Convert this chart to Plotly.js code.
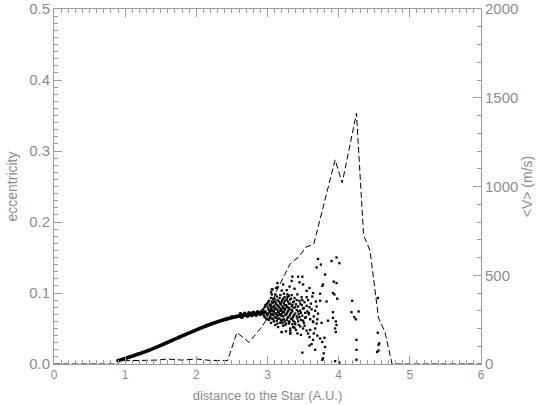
<!DOCTYPE html>
<html>
<head>
<meta charset="utf-8">
<script src="https://cdn.plot.ly/plotly-3.0.1.min.js"></script>
<style>
  body { margin: 0; background: #fff; }
  #chart { width: 545px; height: 405px; }
</style>
</head>
<body>
<div id="chart"></div>
<script>
// smooth part of the eccentricity distribution (dense band)
let curveX = [0.90, 0.925, 0.95, 0.975, 1.00, 1.025, 1.05, 1.075, 1.10, 1.125, 1.15, 1.175, 1.20, 1.225,
    1.25, 1.275, 1.30, 1.325, 1.35, 1.375, 1.40, 1.425, 1.45, 1.475, 1.50, 1.525, 1.55, 1.575,
    1.60, 1.625, 1.65, 1.675, 1.70, 1.725, 1.75, 1.775, 1.80, 1.825, 1.85, 1.875, 1.90, 1.925,
    1.95, 1.975, 2.00, 2.025, 2.05, 2.075, 2.10, 2.125, 2.15, 2.175, 2.20, 2.225, 2.25, 2.275,
    2.30, 2.325, 2.35, 2.375, 2.40, 2.425, 2.45, 2.475, 2.50, 2.525, 2.55, 2.575, 2.60, 2.625,
    2.65, 2.675, 2.70, 2.725, 2.75, 2.775, 2.80, 2.825, 2.85, 2.875, 2.90, 2.925, 2.95,
    2.62, 2.68, 2.74, 2.80, 2.86, 2.92, 2.64, 2.72, 2.78, 2.84, 2.90, 2.50, 2.56];
let curveE = [0.0048, 0.0055, 0.0063, 0.0071, 0.0079, 0.0087, 0.0095, 0.0103, 0.0112, 0.0120, 0.0129,
    0.0137, 0.0146, 0.0154, 0.0163, 0.0171, 0.0180, 0.0190, 0.0200, 0.0210, 0.0221, 0.0231, 0.0242,
    0.0252, 0.0263, 0.0274, 0.0285, 0.0296, 0.0307, 0.0318, 0.0329, 0.0340, 0.0351, 0.0362, 0.0373,
    0.0384, 0.0395, 0.0406, 0.0417, 0.0428, 0.0438, 0.0449, 0.0460, 0.0470, 0.0481, 0.0491, 0.0502,
    0.0512, 0.0522, 0.0532, 0.0542, 0.0551, 0.0561, 0.0570, 0.0579, 0.0587, 0.0596, 0.0604, 0.0612,
    0.0620, 0.0627, 0.0634, 0.0641, 0.0647, 0.0654, 0.0660, 0.0665, 0.0670, 0.0675, 0.0680, 0.0684,
    0.0688, 0.0692, 0.0696, 0.0699, 0.0703, 0.0706, 0.0709, 0.0712, 0.0715, 0.0718, 0.0721, 0.0724,
    0.0705, 0.0712, 0.0718, 0.0727, 0.0735, 0.0740, 0.0660, 0.0675, 0.0684, 0.0690, 0.0700, 0.0662, 0.0672];

// scattered planetesimals beyond ~2.9 AU
let scatX = [
    2.95, 2.96, 2.97, 2.98, 2.99, 3.00, 3.01, 3.02, 3.02, 3.03, 3.04, 3.04, 3.05, 3.05,
    3.06, 3.07, 3.07, 3.08, 3.08, 3.09, 3.10, 3.10, 3.11, 3.11, 3.12, 3.12, 3.13, 3.13, 3.14, 3.14, 3.15, 3.15,
    3.16, 3.16, 3.17, 3.17, 3.18, 3.18, 3.19, 3.19, 3.20, 3.20, 3.21, 3.21, 3.22, 3.22, 3.23, 3.23, 3.24, 3.24, 3.25, 3.25,
    3.26, 3.26, 3.27, 3.27, 3.28, 3.28, 3.29, 3.29, 3.30, 3.30, 3.31, 3.31, 3.32, 3.32, 3.33, 3.33, 3.34, 3.34, 3.35, 3.35,
    3.36, 3.36, 3.37, 3.38, 3.38, 3.39, 3.40, 3.40, 3.41, 3.42, 3.42, 3.43, 3.44, 3.44, 3.45,
    3.46, 3.47, 3.48, 3.48, 3.49, 3.50, 3.51, 3.52, 3.53, 3.54, 3.55,
    3.57, 3.58, 3.60, 3.61, 3.62, 3.63, 3.65,
    3.05, 3.12, 3.27, 3.38, 3.14, 3.06, 3.14, 3.06, 3.09, 3.18, 3.23,
    3.20, 3.32, 3.42, 3.49, 3.59, 3.67, 3.81, 3.78, 3.77, 4.01,
    4.25, 4.25, 4.25, 4.19, 4.18, 4.28, 4.24, 4.55, 4.56, 4.56, 4.54,
    3.92, 3.92, 3.95, 3.96, 3.93, 3.97, 3.92, 3.94, 3.90, 3.97, 4.01,
    3.71, 3.69, 3.75, 3.81, 3.78, 3.77, 3.74, 3.74, 3.69, 3.67, 3.71,
    3.64, 3.69, 3.67, 3.65, 3.70, 3.74, 3.80, 3.77, 3.64,
    3.55, 3.57, 3.59, 3.50, 3.46, 3.36, 3.30,
    3.43, 3.49, 3.35, 3.34, 3.45, 3.50, 3.22, 3.20, 3.31, 3.07, 3.11, 3.28, 3.55, 3.59, 3.64, 3.55,
    3.20, 3.32, 3.32, 3.38, 3.26, 3.47, 3.52, 3.60, 3.62, 3.70, 3.76, 3.79,
    3.96, 3.97, 3.98, 3.95, 4.55, 4.57, 4.22, 3.58, 3.83, 3.85,
    2.93, 2.94, 2.96, 2.97, 2.98, 2.99, 3.00, 3.00, 3.01, 3.01, 3.02, 3.03, 3.03, 3.04, 3.05, 3.05,
    3.06, 3.06, 3.07, 3.08, 3.08, 3.09, 3.09, 3.10, 3.11, 3.11, 3.12, 3.12, 3.13, 3.13, 3.14, 3.14,
    3.15, 3.15, 3.16, 3.17, 3.17, 3.18, 3.18, 3.19, 3.19, 3.20, 3.20, 3.21, 3.21, 3.22, 3.22, 3.23,
    3.24, 3.24, 3.25, 3.25, 3.26, 3.27, 3.27, 3.28, 3.28, 3.29, 3.30, 3.30, 3.31, 3.32, 3.32, 3.33,
    3.34, 3.34, 3.35, 3.36, 3.37, 3.37, 3.39, 3.39, 3.41, 3.41, 3.43, 3.43, 3.45, 3.46, 3.47, 3.49,
    3.50, 3.51, 3.53, 3.56, 3.59, 3.64, 3.68];
let scatE = [
    0.068, 0.080, 0.074, 0.064, 0.085, 0.070, 0.078, 0.062, 0.089, 0.073, 0.067, 0.082, 0.058, 0.093,
    0.076, 0.070, 0.086, 0.063, 0.080, 0.074, 0.091, 0.066, 0.055, 0.079, 0.071, 0.085, 0.061, 0.095, 0.076, 0.068, 0.082, 0.052,
    0.088, 0.072, 0.064, 0.079, 0.097, 0.058, 0.084, 0.070, 0.075, 0.062, 0.090, 0.081, 0.067, 0.054, 0.086, 0.073, 0.094, 0.060, 0.078, 0.069,
    0.083, 0.057, 0.091, 0.071, 0.065, 0.080, 0.075, 0.088, 0.060, 0.096, 0.077, 0.068, 0.085, 0.050, 0.072, 0.092, 0.063, 0.081, 0.056, 0.074,
    0.087, 0.066, 0.079, 0.093, 0.059, 0.071, 0.084, 0.048, 0.076, 0.064, 0.098, 0.081, 0.070, 0.055, 0.089,
    0.075, 0.062, 0.094, 0.083, 0.068, 0.078, 0.058, 0.087, 0.072, 0.066, 0.082,
    0.090, 0.070, 0.063, 0.085, 0.077, 0.095, 0.067,
    0.101, 0.107, 0.104, 0.106, 0.114, 0.105, 0.108, 0.098, 0.088, 0.086, 0.099,
    0.045, 0.043, 0.043, 0.016, 0.026, 0.020, 0.024, 0.008, 0.006, 0.002,
    0.034, 0.020, 0.006, 0.089, 0.073, 0.074, 0.063, 0.044, 0.027, 0.019, 0.017,
    0.073, 0.065, 0.050, 0.045, 0.116, 0.114, 0.100, 0.098, 0.145, 0.150, 0.142,
    0.148, 0.136, 0.140, 0.126, 0.112, 0.110, 0.099, 0.089, 0.081, 0.075, 0.071,
    0.059, 0.057, 0.050, 0.043, 0.040, 0.036, 0.037, 0.031, 0.034,
    0.047, 0.043, 0.038, 0.050, 0.053, 0.052, 0.057,
    0.123, 0.123, 0.123, 0.117, 0.115, 0.112, 0.112, 0.1035, 0.109, 0.105, 0.098, 0.098, 0.103, 0.107, 0.100, 0.094,
    0.045, 0.047, 0.043, 0.051, 0.046, 0.041, 0.054, 0.048, 0.028, 0.063, 0.058, 0.015,
    0.060, 0.055, 0.092, 0.004, 0.093, 0.029, 0.066, 0.072, 0.088, 0.061,
    0.071, 0.077, 0.066, 0.083, 0.072, 0.069, 0.081, 0.063, 0.087, 0.071, 0.076, 0.065, 0.084, 0.075, 0.070, 0.079,
    0.064, 0.088, 0.074, 0.069, 0.092, 0.060, 0.082, 0.077, 0.071, 0.087, 0.065, 0.078, 0.083, 0.069, 0.057, 0.090,
    0.073, 0.064, 0.080, 0.093, 0.069, 0.075, 0.085, 0.061, 0.077, 0.088, 0.068, 0.072, 0.058, 0.079, 0.092, 0.063,
    0.076, 0.083, 0.055, 0.089, 0.070, 0.062, 0.081, 0.073, 0.094, 0.066, 0.079, 0.085, 0.059, 0.070, 0.091, 0.064,
    0.076, 0.097, 0.083, 0.061, 0.088, 0.069, 0.080, 0.056, 0.090, 0.067, 0.074, 0.060, 0.066, 0.085, 0.072, 0.090,
    0.061, 0.079, 0.065, 0.074, 0.080, 0.060, 0.088];

// mean velocity <V> (m/s), dashed curve on the right axis
let velX = [0.00, 0.90, 0.92, 1.20, 1.45, 1.60, 1.80, 2.00, 2.20, 2.44, 2.57, 2.74, 2.90, 2.98,
    3.12, 3.32, 3.44, 3.54, 3.65, 3.95, 4.05, 4.25, 4.35, 4.44, 4.56, 4.65, 4.75, 6.00];
let velV = [0, 0, 18, 20, 22, 28, 22, 28, 20, 20, 177, 122, 199, 245,
    405, 566, 603, 659, 675, 1150, 1020, 1413, 725, 640, 260, 180, 0, 0];

let grey = '#8c8c8c';
let axisGrey = '#9c9c9c';
let fnt = 'Liberation Sans, Arial, sans-serif';

Plotly.newPlot(
    'chart',
    [
        {
            type: 'scatter', mode: 'markers', x: curveX, y: curveE,
            marker: { color: '#000', size: 3.8, symbol: 'circle' },
            hoverinfo: 'skip'
        },
        {
            type: 'scatter', mode: 'markers', x: scatX, y: scatE,
            marker: { color: '#000', size: 2.3, symbol: 'square' },
            hoverinfo: 'skip'
        },
        {
            type: 'scatter', mode: 'lines', x: velX, y: velV, yaxis: 'y2',
            line: { color: '#000', width: 1, dash: '6px,3px' },
            hoverinfo: 'skip'
        }
    ],
    {
        width: 545,
        height: 405,
        showlegend: false,
        paper_bgcolor: '#fff',
        plot_bgcolor: '#fff',
        margin: { l: 54, r: 64, t: 9, b: 41 },
        xaxis: {
            range: [0, 6], dtick: 1, tick0: 0,
            showgrid: false, zeroline: false,
            showline: true, linecolor: axisGrey, linewidth: 1, mirror: 'ticks',
            ticks: 'inside', ticklen: 8, tickcolor: axisGrey,
            minor: { dtick: 0.1, ticks: 'inside', ticklen: 4, tickcolor: axisGrey, showgrid: false },
            tickfont: { family: fnt, size: 12, color: grey },
            title: { text: 'distance to the Star (A.U.)', font: { family: fnt, size: 13, color: grey }, standoff: 9 }
        },
        yaxis: {
            range: [0, 0.5], dtick: 0.1, tick0: 0, tickformat: '.1f',
            showgrid: false, zeroline: false,
            showline: true, linecolor: axisGrey, linewidth: 1,
            ticks: 'inside', ticklen: 8, tickcolor: axisGrey,
            minor: { dtick: 0.01, ticks: 'inside', ticklen: 4, tickcolor: axisGrey, showgrid: false },
            tickfont: { family: fnt, size: 15, color: grey },
            ticklabeloverflow: 'allow',
            title: { text: 'eccentricity', font: { family: fnt, size: 14, color: grey }, standoff: 8 }
        },
        yaxis2: {
            overlaying: 'y', side: 'right',
            range: [0, 2000], dtick: 500, tick0: 0,
            showgrid: false, zeroline: false,
            showline: true, linecolor: axisGrey, linewidth: 1,
            ticks: 'inside', ticklen: 8, tickcolor: axisGrey,
            minor: { dtick: 100, ticks: 'inside', ticklen: 4, tickcolor: axisGrey, showgrid: false },
            tickfont: { family: fnt, size: 15, color: grey },
            ticklabeloverflow: 'allow',
            title: { text: '&lt;V&gt; (m/s)', font: { family: fnt, size: 14, color: grey }, standoff: 4 }
        }
    },
    { staticPlot: true }
);
</script>
</body>
</html>
